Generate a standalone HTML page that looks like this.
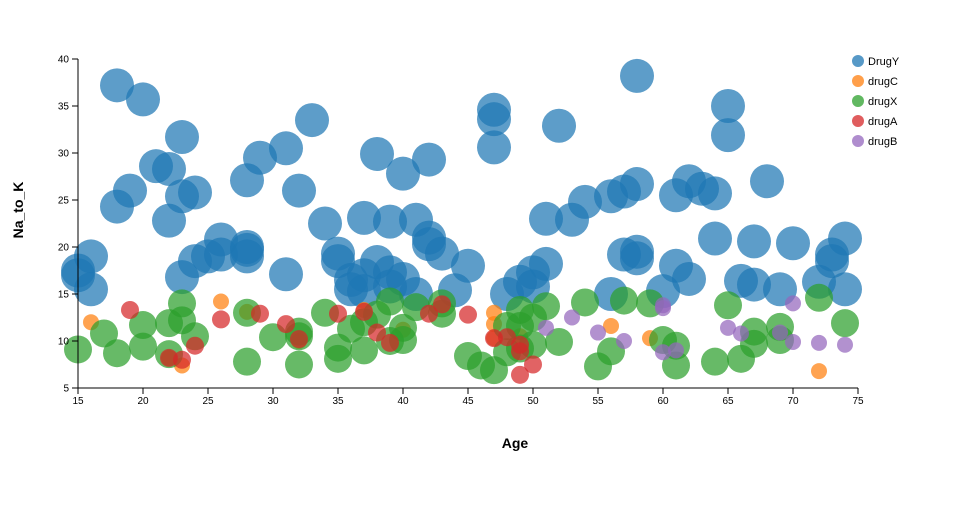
<!DOCTYPE html>
<html><head><meta charset="utf-8"><style>
body{margin:0;background:#fff;font-family:"Liberation Sans",sans-serif}
svg text{font-family:"Liberation Sans",sans-serif}
</style></head><body>
<svg id="chart" width="960" height="500"></svg>
<script>
const series = ["DrugY","drugC","drugX","drugA","drugB"];
const colors = ["#1f77b4","#ff7f0e","#2ca02c","#d62728","#9467bd"];
const radii = [17,8,14,9,8];
const drugYAge=[18,20,23,33,47,47,47,52,58,65,65,21,22,29,31,38,42,40,28,19,18,24,23,32,22,34,37,39,41,51,53,54,56,57,58,61,62,63,64,68,16,15,15,16,23,24,25,26,26,28,28,28,31,35,35,36,37,38,39,36,40,41,42,42,43,44,45,48,49,50,50,51,56,57,58,58,60,61,62,64,66,67,67,69,70,72,73,73,74,74,39,37];
const drugYNa=[37.2,35.7,31.7,33.5,34.6,33.6,30.6,32.9,38.2,35,31.9,28.6,28.3,29.5,30.5,29.9,29.3,27.8,27.1,26,24.3,25.8,25.4,26,22.8,22.5,23.1,22.7,22.9,23,22.9,24.8,25.4,25.9,26.7,25.5,27,26.2,25.7,27,19,17.5,17,15.5,16.8,18.5,19,20.8,19.2,19.7,19,20,17.1,19.3,18.5,16.5,17,18.4,17.3,15.5,16.6,15,21,20.3,19.3,15.4,18,15,16.3,17.3,15.8,18.2,15,19.2,19.5,18.8,15.3,18,16.6,20.9,16.4,20.6,16,15.5,20.4,16.3,19.2,18.5,20.9,15.5,15.8,15.3];
const drugCAge=[16,22,23,26,28,40,47,47,47,49,56,59,72,32,37];
const drugCNa=[12,8.2,7.4,14.2,13.1,11.2,13,11.8,10.3,10.5,11.6,10.3,6.8,10,13.3];
const drugXAge=[15,17,18,20,20,22,22,23,23,24,28,28,30,32,32,34,35,35,36,37,37,38,39,39,40,40,41,43,45,46,47,48,49,49,50,50,51,52,54,55,56,57,59,60,61,61,64,65,66,67,67,69,69,72,74,32,43,49,48];
const drugXNa=[9.1,10.8,8.7,11.7,9.4,8.6,11.9,14,12.2,10.5,13,7.8,10.4,10.5,7.5,13,8.1,9.3,11.3,12,9,12.8,14.2,10,11.4,10.1,13.6,12.9,8.4,7.4,6.9,8.8,13.3,11.6,12.5,9.6,13.7,9.9,14.1,7.3,8.9,14.3,14,10.1,9.5,7.4,7.8,13.8,8.1,11,9.7,11.5,10.1,14.6,11.9,11,14,9.2,11.6];
const drugAAge=[19,22,23,24,26,29,31,32,35,37,38,39,42,43,45,47,48,49,49,50,49];
const drugANa=[13.3,8.2,8,9.5,12.3,12.9,11.8,10.2,12.9,13.1,10.9,9.8,12.9,13.9,12.8,10.3,10.4,8.9,6.4,7.5,9.6];
const drugBAge=[51,53,55,57,60,60,61,65,66,69,70,70,72,74,60];
const drugBNa=[11.4,12.5,10.9,10,8.8,13.5,9,11.4,10.8,10.9,14,9.9,9.8,9.6,13.8];
const xTicks=[15,20,25,30,35,40,45,50,55,60,65,70,75];
const yTicks=[5,10,15,20,25,30,35,40];
const ages=[drugYAge,drugCAge,drugXAge,drugAAge,drugBAge];
const nas=[drugYNa,drugCNa,drugXNa,drugANa,drugBNa];
const NS="http://www.w3.org/2000/svg";
const svg=document.getElementById('chart');
const X=v=>78+(v-15)*13, Y=v=>388-(v-5)*(329/35);
function mk(t,a,p){const e=document.createElementNS(NS,t);for(const k in a)e.setAttribute(k,a[k]);(p||svg).appendChild(e);return e;}
const series_g=mk('g',{});


const ax=mk('g',{});


mk('line',{x1:78,y1:388,x2:858,y2:388,stroke:'#000','stroke-width':1},ax);
mk('line',{x1:78,y1:59,x2:78,y2:388,stroke:'#000','stroke-width':1},ax);
xTicks.forEach(t=>{mk('line',{x1:X(t),y1:388,x2:X(t),y2:394,stroke:'#000'},ax);
 const tx=mk('text',{x:X(t),y:404,'font-size':10,'text-anchor':'middle'},ax);tx.textContent=t;
 });
yTicks.forEach(t=>{mk('line',{x1:72,y1:Y(t),x2:78,y2:Y(t),stroke:'#000'},ax);
 const tx=mk('text',{x:69,y:Y(t)+3.5,'font-size':10,'text-anchor':'end'},ax);tx.textContent=t;
 });
const xt=mk('text',{x:515,y:448,'font-size':14,'font-weight':'bold','text-anchor':'middle'});xt.textContent='Age';

const yt=mk('text',{x:23,y:210,'font-size':14,'font-weight':'bold','text-anchor':'middle',transform:'rotate(-90 23 210)'});yt.textContent='Na_to_K';

series.forEach((s,i)=>{
 const g=mk('g',{},series_g);
 
 
 ages[i].forEach((a,j)=>{
  const c=mk('circle',{cx:X(a),cy:Y(nas[i][j]),r:radii[i],fill:colors[i],'fill-opacity':0.72},g);
  
  
 });
 const lg=mk('g',{});
 
 
 mk('circle',{cx:858,cy:61+i*20,r:6,fill:colors[i],'fill-opacity':0.75},lg);
 const t=mk('text',{x:868,y:65+i*20,'font-size':11},lg);t.textContent=s;
});
</script>
</body></html>
